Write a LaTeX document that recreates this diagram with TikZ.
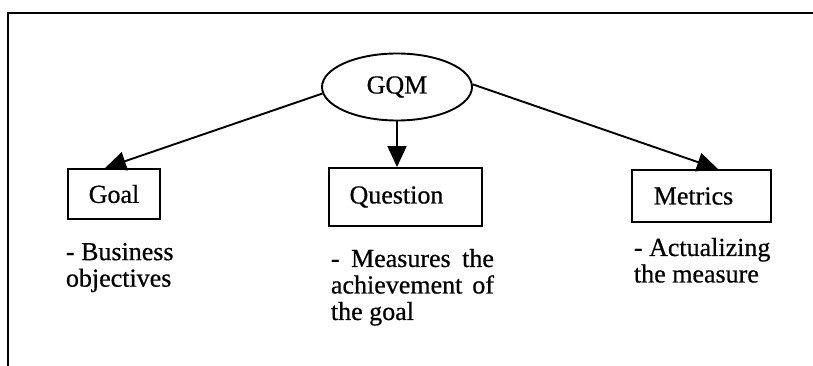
\documentclass[tikz,border=0pt]{standalone}
\usepackage{fontspec}
\setmainfont{Liberation Serif}
\newfontfamily\heavyserif{Liberation Serif}[FakeBold=0.6]
\usetikzlibrary{shapes.geometric,arrows.meta}
\begin{document}
\begin{tikzpicture}[x=1pt,y=-1pt,
  line width=1.9pt,
  font=\heavyserif\fontsize{26}{26.5}\selectfont,
  oval/.style={ellipse,draw,minimum width=150pt,minimum height=67pt,inner sep=0pt},
  boxnode/.style={draw,rectangle,inner sep=0pt},
  note/.style={anchor=north west,align=left,inner sep=0pt},
  arr/.style={-{Triangle[length=21pt,width=19pt]},line width=1.9pt}
]
\useasboundingbox (0,0) rectangle (813,366);
% partial frame: top and left sides
\draw[line width=2.3pt] (8,366) -- (8,13) -- (813,13);

% root
\node[oval] (gqm) at (397,87) {GQM};

% three boxes
\node[boxnode,minimum width=92pt,minimum height=50pt] (goal) at (114,194) {Goal};
\node[boxnode,minimum width=153pt,minimum height=58pt] (question) at (405.5,197) {\hspace*{-18pt}Question};
\node[boxnode,minimum width=139pt,minimum height=52pt] (metrics) at (701.5,196) {\hspace*{-16pt}Metrics};

% connectors
\draw[arr] (gqm.185) -- ([xshift=-9pt]goal.north);
\draw[arr] (gqm.south) -- (gqm.south |- question.north);
\draw[arr] (gqm.2) -- ([xshift=16.5pt]metrics.north);

% descriptions
\node[note] (goaltxt) at (65,242) {- Business\\objectives};
\node[note] (questiontxt) at (330,248) {\makebox[163pt][s]{- Measures the}\\\makebox[163pt][s]{achievement of}\\the goal};
\node[note] (metricstxt) at (633,237) {- Actualizing\\the measure};
\end{tikzpicture}
\end{document}
